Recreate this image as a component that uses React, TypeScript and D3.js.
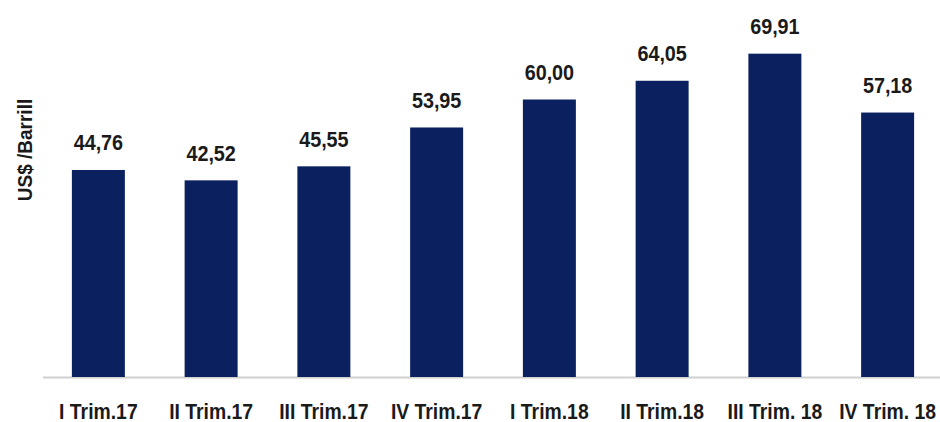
import React from "react";
import * as d3 from "d3";

const categories = ["I Trim.17", "II Trim.17", "III Trim.17", "IV Trim.17", "I Trim.18", "II Trim.18", "III Trim. 18", "IV Trim. 18"];
const values = [44.76, 42.52, 45.55, 53.95, 60.0, 64.05, 69.91, 57.18];
const valueLabels = ["44,76", "42,52", "45,55", "53,95", "60,00", "64,05", "69,91", "57,18"];
const yAxisTitle = "US$ /Barrill";

const W = 940;
const H = 422;
const FONT = "'Liberation Sans', Arial, sans-serif";

export default function App() {
  const x = d3.scaleBand<string>().domain(categories).range([42, 944]).paddingInner(0.53).paddingOuter(0.265);
  const y = d3.scaleLinear().domain([0, 80]).range([377, 7]);

  return (
    <svg width={W} height={H} style={{ position: "absolute", left: 0, top: 0, background: "#fff" }}>
      <line x1={43} x2={940} y1={377.5} y2={377.5} stroke="#d0d0d0" strokeWidth={2} />
      {categories.map((c, i) => {
        const bx = x(c)!;
        const by = y(values[i]);
        const cx = bx + x.bandwidth() / 2;
        return (
          <g key={c}>
            <rect x={bx} y={by} width={x.bandwidth()} height={y(0) - by} fill="#0b215f" />
            <text transform={`translate(${cx},${by - 19.5}) scale(0.9,1)`} textAnchor="middle" fontFamily={FONT} fontWeight="bold" fontSize={22} fill="#1a1a1a">
              {valueLabels[i]}
            </text>
            <text transform={`translate(${cx},419) scale(0.88,1)`} textAnchor="middle" fontFamily={FONT} fontWeight="bold" fontSize={22} fill="#1a1a1a">
              {c}
            </text>
          </g>
        );
      })}
      <text transform="translate(32,150) rotate(-90) scale(0.95,1)" textAnchor="middle" fontFamily={FONT} fontWeight="bold" fontSize={20} fill="#1a1a1a">
        {yAxisTitle}
      </text>
    </svg>
  );
}
